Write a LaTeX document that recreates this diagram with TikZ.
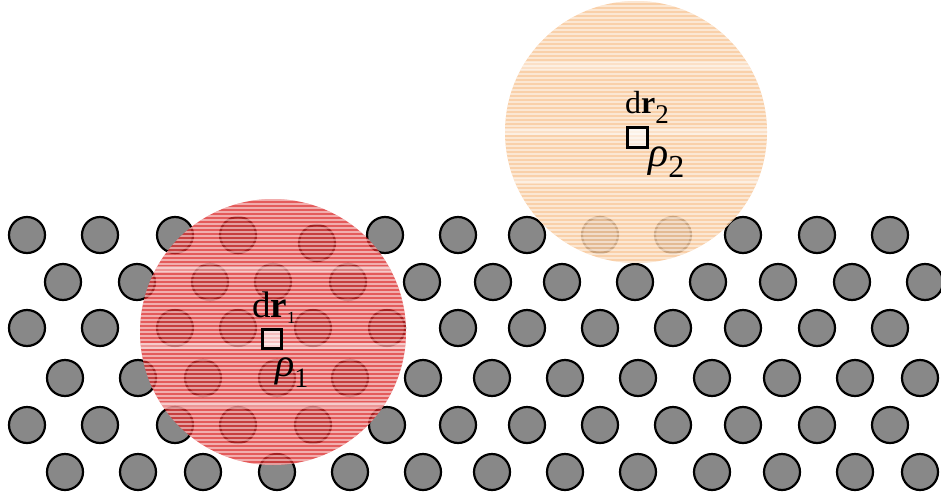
\documentclass[tikz,border=0pt]{standalone}
\usepackage{fontspec}
\setmainfont{Liberation Serif}
\definecolor{atomgrey}{RGB}{136,136,136}
\definecolor{redglow}{RGB}{220,40,40}
\definecolor{orangeglow}{RGB}{248,198,150}
\tikzset{
  atom/.style={circle, draw=black, line width=2.2pt, fill=atomgrey,
    minimum size=36pt, inner sep=0pt},
  glowstripe/.style={white, line width=1.6pt, opacity=0.5},
  glowband/.style={white, opacity=0.35},
  cellbox/.style={draw=black, line width=2.6pt, fill=white, fill opacity=0.6,
    minimum size=18.5pt, inner sep=0pt},
  lbl/.style={inner sep=0pt, anchor=base west, text=black}
}
\begin{document}
\begin{tikzpicture}[x=1pt,y=-1pt]
\useasboundingbox (0,0) rectangle (941,495);

% lattice of atoms, row by row
\foreach \x [count=\i] in {27,100,175,238,317,385,458,527,600,673,743,817,890}
  \node[atom] (ra-\i) at (\x,{\i==5 ? 243 : 235}) {};
\foreach \x [count=\i] in {63,137,210,273,348,422,493,562,635,708,778,852,925}
  \node[atom] (rb-\i) at (\x,282) {};
\foreach \x [count=\i] in {27,100,175,238,313,387,458,527,600,673,743,817,890}
  \node[atom] (rc-\i) at (\x,328) {};
\foreach \x [count=\i] in {65,138,203,277,350,423,492,565,638,712,782,855,920}
  \node[atom] (rd-\i) at (\x,378) {};
\foreach \x [count=\i] in {27,100,175,238,313,387,458,527,600,673,743,817,890}
  \node[atom] (re-\i) at (\x,425) {};
\foreach \x [count=\i] in {65,138,203,277,350,423,492,565,638,712,782,855,920}
  \node[atom] (rf-\i) at (\x,472) {};

% red density cloud
\fill[redglow, opacity=0.76] (273,332) circle (133);
\begin{scope}
  \clip (273,332) circle (133);
  \foreach \y in {200,204,...,468}
    \draw[glowstripe] (135,\y) -- (410,\y);
  \fill[glowband] (135,266) rectangle (410,272);
  \fill[glowband] (135,343) rectangle (410,349);
  \fill[glowband] (135,402) rectangle (410,407);
\end{scope}

% orange density cloud
\fill[orangeglow, opacity=0.82] (636,132) circle (131);
\begin{scope}
  \clip (636,132) circle (131);
  \foreach \y in {2,6,...,264}
    \draw[glowstripe] (500,\y) -- (770,\y);
  \fill[glowband] (500,62) rectangle (770,70);
  \fill[glowband] (500,128) rectangle (770,135);
  \fill[glowband] (500,178) rectangle (770,184);
\end{scope}

% volume elements
\node[cellbox] (cell1) at (272,339) {};
\node[cellbox, minimum size=19.5pt] (cell2) at (637.5,137.5) {};

% labels
\node[lbl] (dr1) at (252,317)
  {\fontsize{37}{37}\selectfont d\textbf{r}\raisebox{-6pt}{\fontsize{17}{17}\selectfont 1}};
\node[lbl] (rho1) at (275,376)
  {\fontsize{40}{40}\selectfont\itshape ρ\raisebox{-11pt}{\fontsize{28}{28}\selectfont\upshape 1}};
\node[lbl] (dr2) at (625,113)
  {\fontsize{32}{32}\selectfont d\textbf{r}\raisebox{-10pt}{\fontsize{27}{27}\selectfont 2}};
\node[lbl] (rho2) at (648,166)
  {\fontsize{42}{42}\selectfont\itshape ρ\raisebox{-11pt}{\fontsize{32}{32}\selectfont\upshape 2}};
\end{tikzpicture}
\end{document}
